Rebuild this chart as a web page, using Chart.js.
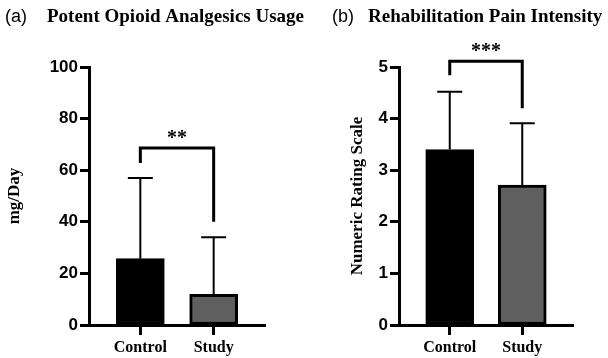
<!DOCTYPE html>
<html lang="en">
<head>
    <meta charset="UTF-8">
    <title>Opioid usage and pain intensity</title>
    <script src="https://cdn.jsdelivr.net/npm/chart.js"></script>
</head>
<style>
body{ margin:0; background:#fff; }
canvas{ position:absolute; top:0; }
#chartA{ left:0; }
#chartB{ left:300px; }
</style>
<body>
    <canvas id="chartA" width="320" height="358"></canvas>
    <canvas id="chartB" width="308" height="358"></canvas>
</body>
<script>
// data
const groups = ['Control', 'Study'];
const barColors = ['#000000', '#5f5f5f'];

const opioidMean = [25.7, 11.9];
const opioidSD = [31.3, 22.1];
const opioidTicks = [0, 20, 40, 60, 80, 100];
// significance bracket: [bracket level, left leg end, right leg end], stars
const opioidSig = [68.6, 62.8, 40];
const opioidStars = '**';

const painMean = [3.40, 2.71];
const painSD = [1.12, 1.20];
const painTicks = [0, 1, 2, 3, 4, 5];
const painSig = [5.11, 4.84, 4.2];
const painStars = '***';

// error bars + bracket + panel heading
const extras = {
    id: 'extras',
    afterDatasetsDraw(chart, args, opts) {
        const ctx = chart.ctx;
        const xs = chart.scales.x, ys = chart.scales.y;
        ctx.save();
        ctx.strokeStyle = '#000';
        ctx.lineWidth = 2;
        opts.mean.forEach((m, i) => {
            const x = xs.getPixelForValue(i);
            const y0 = ys.getPixelForValue(m);
            const y1 = ys.getPixelForValue(m + opts.sd[i]);
            ctx.beginPath();
            ctx.moveTo(x, y0);
            ctx.lineTo(x, y1);
            ctx.moveTo(x - 12.5, y1);
            ctx.lineTo(x + 12.5, y1);
            ctx.stroke();
        });
        // bracket
        const xa = xs.getPixelForValue(0), xb = xs.getPixelForValue(1);
        const top = ys.getPixelForValue(opts.sig[0]);
        ctx.lineWidth = 3;
        ctx.lineJoin = 'miter';
        ctx.beginPath();
        ctx.moveTo(xa, ys.getPixelForValue(opts.sig[1]));
        ctx.lineTo(xa, top);
        ctx.lineTo(xb, top);
        ctx.lineTo(xb, ys.getPixelForValue(opts.sig[2]));
        ctx.stroke();
        ctx.fillStyle = '#000';
        ctx.font = 'bold 20px "Liberation Serif"';
        ctx.textAlign = 'center';
        ctx.textBaseline = 'alphabetic';
        ctx.fillText(opts.stars, (xa + xb) / 2, top - 4);
        // heading
        ctx.textAlign = 'left';
        ctx.font = '18px "Liberation Sans"';
        ctx.fillText(opts.tag, opts.tagX, 22);
        ctx.font = 'bold 19px "Liberation Serif"';
        ctx.fillText(opts.heading, opts.headX, 22);
        ctx.restore();
    }
};

function makeChart(id, mean, ticks, yTitle, padLeft, padRight, axisW, pluginOpts) {
    const ctx = document.getElementById(id).getContext('2d');
    return new Chart(ctx, {
        type: 'bar',
        data: {
            datasets: [{
                data: mean.map((v, i) => ({ x: i, y: v })),
                backgroundColor: barColors,
                borderColor: '#000',
                borderWidth: 3,
                borderSkipped: false,
                barThickness: 48
            }]
        },
        options: {
            responsive: false,
            animation: false,
            layout: { padding: { top: 67, left: padLeft, right: padRight, bottom: 0 } },
            plugins: {
                legend: { display: false },
                tooltip: { enabled: false },
                extras: pluginOpts
            },
            scales: {
                x: {
                    type: 'linear',
                    offset: false,
                    min: -0.7,
                    max: 1.7,
                    afterBuildTicks: s => { s.ticks = groups.map((g, i) => ({ value: i })); },
                    afterFit: s => { s.height = 33; },
                    ticks: {
                        callback: v => groups[v],
                        color: '#000',
                        padding: 3,
                        font: { family: 'Liberation Serif', size: 16, weight: 'bold' }
                    },
                    grid: { offset: false, drawOnChartArea: false, tickLength: 10, tickWidth: 3, tickColor: '#000' },
                    border: { color: '#000', width: 3 }
                },
                y: {
                    min: ticks[0],
                    max: ticks[ticks.length - 1],
                    afterBuildTicks: s => { s.ticks = ticks.map(v => ({ value: v })); },
                    afterFit: s => { s.width = axisW; },
                    ticks: {
                        color: '#000',
                        padding: 2,
                        font: { family: 'Liberation Sans', size: 17, weight: 'bold' }
                    },
                    grid: { drawOnChartArea: false, tickLength: 9, tickWidth: 3, tickColor: '#000' },
                    border: { color: '#000', width: 3 },
                    title: {
                        display: true,
                        text: yTitle,
                        color: '#000',
                        font: { family: 'Liberation Serif', size: 17, weight: 'bold' }
                    }
                }
            }
        },
        plugins: [extras]
    });
}

makeChart('chartA', opioidMean, opioidTicks, 'mg/Day', 0, 55, 89, {
    mean: opioidMean, sd: opioidSD, sig: opioidSig, stars: opioidStars,
    tag: '(a)', tagX: 5, heading: 'Potent Opioid Analgesics Usage', headX: 47
});
makeChart('chartB', painMean, painTicks, 'Numeric Rating Scale', 43, 35, 56, {
    mean: painMean, sd: painSD, sig: painSig, stars: painStars,
    tag: '(b)', tagX: 32, heading: 'Rehabilitation Pain Intensity', headX: 68
});
</script>
</html>
